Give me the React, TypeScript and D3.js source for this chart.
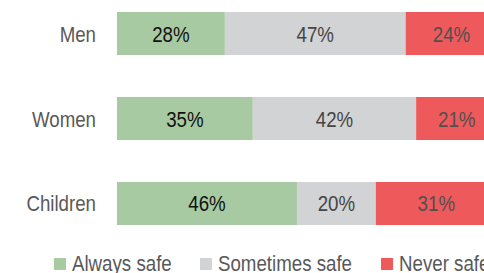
import React from 'react';
import * as d3 from 'd3';

// groups, top to bottom
const categories = ['Men', 'Women', 'Children'];
const seriesNames = ['Always safe', 'Sometimes safe', 'Never safe'];

// shares in percent
const alwaysSafe = [27.8, 35.0, 46.4];
const sometimesSafe = [46.6, 42.1, 20.3];
const neverSafe = [23.6, 20.9, 31.2];

const colors = ['#a7caa2', '#d2d3d5', '#ee595b'];
const labelColors = ['#111111', '#454545', '#505050'];

const width = 484;
const height = 273;
// no Arial Narrow here, so Liberation Sans squeezed horizontally
const font = '"Liberation Sans", Arial, sans-serif';
const squeeze = 0.85;

type Row = { category: string; [key: string]: number | string };

// text drawn condensed around its anchor point
const NarrowText = ({ x, y, anchor, fill, children }: {
	x: number; y: number; anchor: 'start' | 'middle' | 'end'; fill: string; children: React.ReactNode;
}) => (
	<g transform={`translate(${x}, ${y}) scale(${squeeze}, 1)`}>
		<text textAnchor={anchor} fontSize={22} fill={fill}>{children}</text>
	</g>
);

export default function App() {
	const rows: Row[] = categories.map((c, i) => ({
		category: c,
		[seriesNames[0]]: alwaysSafe[i],
		[seriesNames[1]]: sometimesSafe[i],
		[seriesNames[2]]: neverSafe[i],
	}));

	const stacked = d3.stack<Row>()
		.keys(seriesNames)
		.value((d, key) => d[key] as number)(rows);

	const x = d3.scaleLinear().domain([0, 100]).range([117, 505]);
	const y = d3.scaleBand<string>()
		.domain(categories)
		.range([12, 225])
		.paddingInner(0.494)
		.paddingOuter(0);
	const fmt = d3.format('.0f');
	const bw = y.bandwidth();

	// legend positions
	const legendX = [54, 200, 381];

	return (
		<svg
			width={width}
			height={height}
			style={{ position: 'absolute', left: 0, top: 0, fontFamily: font }}
		>
			<rect width={width} height={height} fill="#ffffff" />

			{stacked.map((layer, si) => (
				<g key={layer.key}>
					{layer.map((seg, ci) => {
						const x0 = x(seg[0]);
						const x1 = x(seg[1]);
						const yy = y(categories[ci])!;
						return (
							<g key={categories[ci]}>
								<rect x={x0} y={yy} width={x1 - x0} height={bw} fill={colors[si]} />
								<NarrowText x={(x0 + x1) / 2} y={yy + bw / 2 + 8} anchor="middle" fill={labelColors[si]}>
									{fmt(seg[1] - seg[0])}%
								</NarrowText>
							</g>
						);
					})}
				</g>
			))}

			{categories.map(c => (
				<NarrowText key={c} x={96} y={y(c)! + bw / 2 + 8} anchor="end" fill="#595959">
					{c}
				</NarrowText>
			))}

			{seriesNames.map((s, i) => (
				<g key={s}>
					<rect x={legendX[i]} y={258} width={12} height={12} fill={colors[i]} />
					<NarrowText x={legendX[i] + 18} y={271} anchor="start" fill="#595959">{s}</NarrowText>
				</g>
			))}
		</svg>
	);
}
